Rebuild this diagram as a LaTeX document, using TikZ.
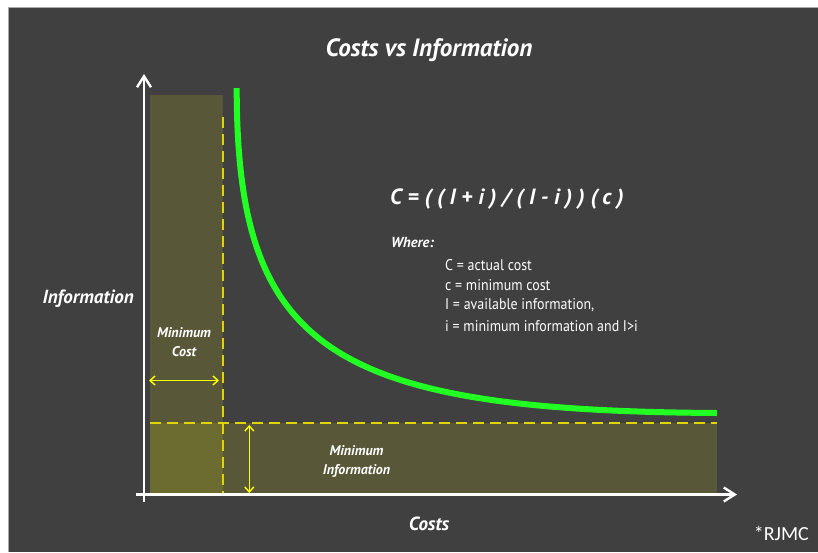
\documentclass[tikz,border=0pt]{standalone}
\usepackage{fontspec}
\setmainfont{PT Sans}
\newfontfamily\twfont{PT Sans}
\newfontfamily\twnarrow[FakeStretch=0.9]{PT Sans}
\newfontfamily\rjfont{Carlito}
\usetikzlibrary{arrows.meta}

\definecolor{bgdark}{RGB}{64,64,64}
\definecolor{edgegray}{RGB}{170,170,170}
\definecolor{zonefill}{RGB}{200,200,20}
\definecolor{dashyellow}{RGB}{225,212,0}
\definecolor{arrowyellow}{RGB}{255,255,0}
\definecolor{curvegreen}{RGB}{34,255,34}

\tikzset{
  axisline/.style={white, line width=2.4pt,
    -{Straight Barb[length=11pt,width=14pt,line width=2.4pt]}},
  zone/.style={fill=zonefill, fill opacity=0.18},
  guide/.style={dashyellow, line width=1.8pt, dash pattern=on 11pt off 6pt},
  spanarrow/.style={arrowyellow, line width=1.4pt,
    {Straight Barb[length=5pt,width=9pt]}-{Straight Barb[length=5pt,width=9pt]}},
  costcurve/.style={curvegreen, line width=6pt},
  heading/.style={white, font=\twfont\bfseries\itshape\fontsize{25}{30}\selectfont},
  axislabel/.style={white, font=\twfont\bfseries\itshape\fontsize{19}{22}\selectfont},
  zonelabel/.style={white, align=center, inner sep=0pt,
    font=\twfont\bfseries\itshape\fontsize{14}{19}\selectfont},
  legendline/.style={white, anchor=west, inner sep=0pt,
    font=\twnarrow\fontsize{15.5}{18}\selectfont}
}

\begin{document}
\begin{tikzpicture}[x=1pt,y=-1pt]
\useasboundingbox (0,0) rectangle (818,552);
% page and slide background
\fill[white] (0,0) rectangle (818,552);
\fill[bgdark] (8,7) rectangle (818,552);
\draw[edgegray, line width=0.8pt] (8,552) -- (8,7) -- (818,7);

% shaded zones below the minimums
\fill[zone] (150,95) rectangle (222.5,494);
\fill[zone] (150,423.3) rectangle (717,494);

% guide lines for minimum cost and minimum information
\coordinate (mcTop) at (223,117);
\coordinate (mcBot) at (223,494);
\coordinate (miL) at (150,423.3);
\coordinate (miR) at (717,423.3);
\draw[guide] (mcTop) -- (mcBot);
\draw[guide] (miL) -- (miR);

% axes
\coordinate (yStart) at (144,502);
\coordinate (yEnd) at (144,74);
\coordinate (xStart) at (136,494.5);
\coordinate (xEnd) at (737,494.5);
\draw[axisline] (yStart) -- (yEnd);
\draw[axisline] (xStart) -- (xEnd);

% span arrows
\coordinate (hA) at (149,380.5);
\coordinate (hB) at (219,380.5);
\coordinate (vA) at (249.3,425);
\coordinate (vB) at (249.3,493);
\draw[spanarrow] (hA) -- (hB);
\draw[spanarrow] (vA) -- (vB);

% cost curve
\coordinate (cStart) at (236.7,88);
\coordinate (cEnd) at (717,413);
\draw[costcurve] (cStart) .. controls (236.7,350) and (330,410.5) .. (cEnd);

% texts
\node[heading] (title) at (429,50) {Costs vs Information};
\node[axislabel, anchor=east, inner sep=0pt] (ylab) at (134,299) {Information};
\node[axislabel, inner sep=0pt] (xlab) at (429,524) {Costs};

\node[white, anchor=west, inner sep=0pt,
  font=\twfont\bfseries\itshape\fontsize{22}{24}\selectfont\addfontfeature{LetterSpace=26}]
  (formula) at (390,199) {C=((I+i)/(I-i))(c)};
\node[white, anchor=west, inner sep=0pt,
  font=\twfont\bfseries\itshape\fontsize{14.5}{16}\selectfont]
  (where) at (391,243) {Where:};
\node[legendline] (l1) at (445,265) {C = actual cost};
\node[legendline] (l2) at (445,285) {c = minimum cost};
\node[legendline] (l3) at (445,305) {I = available information,};
\node[legendline] (l4) at (445,326) {i = minimum information and I>i};

\node[zonelabel] (mc) at (184,342.5) {Minimum\\Cost};
\node[zonelabel] (mi) at (356.5,461.5) {Minimum\\Information};

\node[white, anchor=east, inner sep=0pt, font=\rjfont\fontsize{20}{24}\selectfont]
  (tag) at (809,533) {*RJMC};
\end{tikzpicture}
\end{document}
